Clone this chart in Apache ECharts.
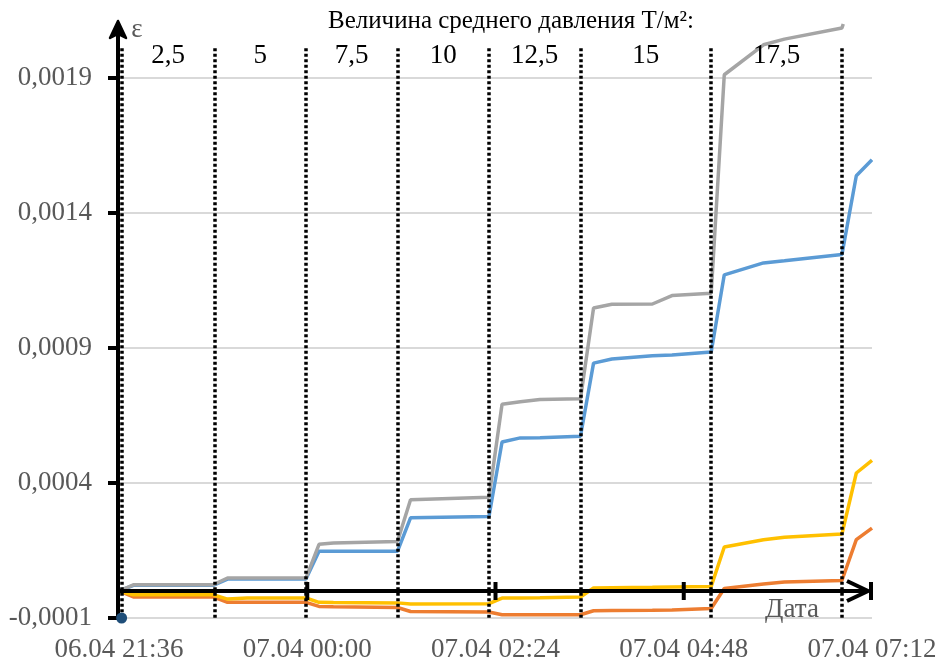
<!DOCTYPE html>
<html>
<head>
<meta charset="utf-8">
<script src="https://cdn.jsdelivr.net/npm/echarts@6/dist/echarts.min.js"></script>
<style>html,body{margin:0;padding:0;background:#fff}#c{width:940px;height:668px}</style>
</head>
<body>
<div id="c"></div>
<script>
// ---- data ----
const times = ["06.04 21:36","06.04 21:47","06.04 22:48","06.04 22:59","06.04 23:14","06.04 23:59",
  "07.04 00:09","07.04 00:20","07.04 01:09","07.04 01:19","07.04 02:19","07.04 02:29","07.04 02:43",
  "07.04 02:58","07.04 03:29","07.04 03:39","07.04 03:53","07.04 04:24","07.04 04:39","07.04 05:09",
  "07.04 05:19","07.04 05:49","07.04 06:05","07.04 06:49","07.04 06:50","07.04 07:00","07.04 07:12"];
const blueValues = [0, 0.000021, 0.000021, 0.000044, 0.000044, 0.000044, 0.000147, 0.000147, 0.000147,
  0.000271, 0.000276, 0.000552, 0.000567, 0.000568, 0.000573, 0.000844, 0.000859, 0.000871, 0.000874,
  0.000885, 0.001171, 0.001215, 0.001223, 0.001246, null, 0.001538, 0.001597];
const orangeValues = [0, -0.000022, -0.000022, -0.000042, -0.000042, -0.000042, -0.000057, -0.000058,
  -0.000061, -0.000076, -0.000078, -0.000088, -0.000088, -0.000088, -0.000088, -0.000073, -0.000072,
  -0.000071, -0.000070, -0.000065, 0.000009, 0.000026, 0.000033, 0.000039, null, 0.000190, 0.000233];
const grayValues = [0, 0.000023, 0.000023, 0.000048, 0.000048, 0.000048, 0.000173, 0.000178, 0.000183,
  0.000338, 0.000347, 0.000692, 0.000701, 0.000709, 0.000712, 0.001048, 0.001062, 0.001063, 0.001094,
  0.001103, 0.001912, 0.002023, 0.002044, 0.002085, 0.002100, null, null];
const yellowValues = [0, -0.000014, -0.000014, -0.000030, -0.000026, -0.000026, -0.000042, -0.000043,
  -0.000044, -0.000048, -0.000047, -0.000026, -0.000026, -0.000025, -0.000022, 0.000011, 0.000012,
  0.000014, 0.000015, 0.000017, 0.000163, 0.000190, 0.000199, 0.000211, null, 0.000437, 0.000484];

const dividerTimes = ["06.04 21:38","06.04 22:49","06.04 23:59","07.04 01:09","07.04 02:19",
  "07.04 03:29","07.04 05:09","07.04 06:49"];
const pressureLabels = ["2,5","5","7,5","10","12,5","15","17,5"];
const xTickLabels = ["06.04 21:36","07.04 00:00","07.04 02:24","07.04 04:48","07.04 07:12"];
const yTicks = [-0.0001, 0.0004, 0.0009, 0.0014, 0.0019];
const yTickLabels = ["-0,0001","0,0004","0,0009","0,0014","0,0019"];
const yMax = 0.0021;
const dividerTopValue = 0.00201;
const titleText = "Величина среднего давления Т/м²:";

// ---- helpers ----
function toMinutes(s){
  const parts = s.split(' ');
  const day = +parts[0].split('.')[0];
  const hm = parts[1].split(':').map(Number);
  return day*1440 + hm[0]*60 + hm[1];
}
const base = toMinutes(xTickLabels[0]);
function toHours(s){ return (toMinutes(s) - base)/60; }
const xMin = toHours(xTickLabels[0]);
const xMax = toHours(xTickLabels[xTickLabels.length-1]);
const xInterval = toHours(xTickLabels[1]) - xMin;

function pairs(vals){
  const out = [];
  times.forEach((t,i)=>{ if (vals[i] !== null) out.push([toHours(t), vals[i]]); });
  return out;
}

const FONT = '"Liberation Serif", "Times New Roman", serif';
const chart = echarts.init(document.getElementById('c'), null, {renderer:'canvas'});

const lineSeries = (name, vals, color) => ({
  name, type:'line', data: pairs(vals), showSymbol:false, symbol:'none',
  lineStyle:{color, width:3.5}, itemStyle:{color}, animation:false, z:2
});

chart.setOption({
  animation:false,
  grid:{left:119, right:68, top:24, bottom:50},
  xAxis:{
    type:'value', min:xMin, max:xMax, interval:xInterval,
    axisLine:{show:false}, axisTick:{show:false}, splitLine:{show:false},
    axisLabel:{
      showMinLabel:true, showMaxLabel:true, margin:18,
      fontFamily:FONT, fontSize:27, color:'#595959',
      formatter:(v)=>{ const i = Math.round((v - xMin)/xInterval); return xTickLabels[i] || ''; }
    }
  },
  yAxis:{
    type:'value', min:yTicks[0], max:yMax, interval:yTicks[1]-yTicks[0],
    axisLine:{show:false}, axisTick:{show:false},
    splitLine:{show:true, showMinLine:true, showMaxLine:false, lineStyle:{color:'#d9d9d9', width:2}},
    axisLabel:{
      showMaxLabel:false, margin:27, fontFamily:FONT, fontSize:27, color:'#595959',
      formatter:(v)=>{ const i = yTicks.findIndex(t=>Math.abs(t-v)<1e-9); return i>=0 ? yTickLabels[i] : ''; }
    }
  },
  series:[
    lineSeries('1', blueValues, '#5B9BD5'),
    lineSeries('2', orangeValues, '#ED7D31'),
    lineSeries('3', grayValues, '#A5A5A5'),
    lineSeries('4', yellowValues, '#FFC000'),
    {
      name:'dividers', type:'line', data:[], z:5, silent:true,
      markLine:{
        silent:true, symbol:['none','none'], animation:false, label:{show:false},
        lineStyle:{color:'#000', width:3.5, type:[3,2.5]},
        emphasis:{disabled:true},
        data: dividerTimes.map(t=>[{coord:[toHours(t), dividerTopValue]},{coord:[toHours(t), yTicks[0]]}])
      }
    }
  ]
});

// ---- decorations placed through the chart's scales ----
const px = (x,y)=>chart.convertToPixel({gridIndex:0},[x,y]);
const g = [];
const black = {stroke:'#000', lineWidth:4, fill:null};
const bottomPx = px(xMin, yTicks[0]);
const zeroPx = px(xMax, 0);
const axisX = bottomPx[0] - 1;

// y axis arrow
g.push({type:'line', shape:{x1:axisX, y1:bottomPx[1]+2, x2:axisX, y2:24}, style:black, z:20});
g.push({type:'polygon', shape:{points:[[axisX-8,38],[axisX,21],[axisX+8,38],[axisX,34]]}, style:{stroke:'#000', lineWidth:2.5, fill:'#000', lineJoin:'round'}, z:20});
// y ticks
yTicks.forEach(v=>{ const p = px(xMin, v); g.push({type:'line', shape:{x1:axisX-10, y1:p[1], x2:axisX, y2:p[1]}, style:black, z:20}); });
// x arrow on zero line
const y0 = zeroPx[1];
g.push({type:'line', shape:{x1:axisX, y1:y0, x2:zeroPx[0]-4, y2:y0}, style:black, z:20});
g.push({type:'polyline', shape:{points:[[zeroPx[0]-25,y0-10],[zeroPx[0]-4,y0],[zeroPx[0]-25,y0+10]]}, style:black, z:20});
g.push({type:'line', shape:{x1:zeroPx[0]-1, y1:y0-9, x2:zeroPx[0]-1, y2:y0+9}, style:black, z:20});
for (let i=1;i<xTickLabels.length-1;i++){
  const p = px(toHours(xTickLabels[i]), 0);
  g.push({type:'line', shape:{x1:p[0], y1:y0-9, x2:p[0], y2:y0+9}, style:black, z:20});
}
// origin dot
const dot = px(toHours(dividerTimes[0]), yTicks[0]);
g.push({type:'circle', shape:{cx:dot[0], cy:dot[1], r:5.5}, style:{fill:'#1F4E79'}, z:21});
// pressure labels between dividers
pressureLabels.forEach((lab,i)=>{
  const a = px(toHours(dividerTimes[i]), 0)[0], b = px(toHours(dividerTimes[i+1]), 0)[0];
  g.push({type:'text', x:(a+b)/2, y:56, style:{text:lab, font:'27px '+FONT, fill:'#000', align:'center', verticalAlign:'middle'}, z:20});
});
// title, axis names
g.push({type:'text', x:511, y:21, style:{text:titleText, font:'25px '+FONT, fill:'#000', align:'center', verticalAlign:'middle'}, z:20});
g.push({type:'text', x:137, y:30, style:{text:'ε', font:'27px '+FONT, fill:'#595959', align:'center', verticalAlign:'middle'}, z:20});
g.push({type:'text', x:zeroPx[0]-80, y:610, style:{text:'Дата', font:'27px '+FONT, fill:'#595959', align:'center', verticalAlign:'middle'}, z:20});

chart.setOption({graphic:{elements:g}});
</script>
</body>
</html>
